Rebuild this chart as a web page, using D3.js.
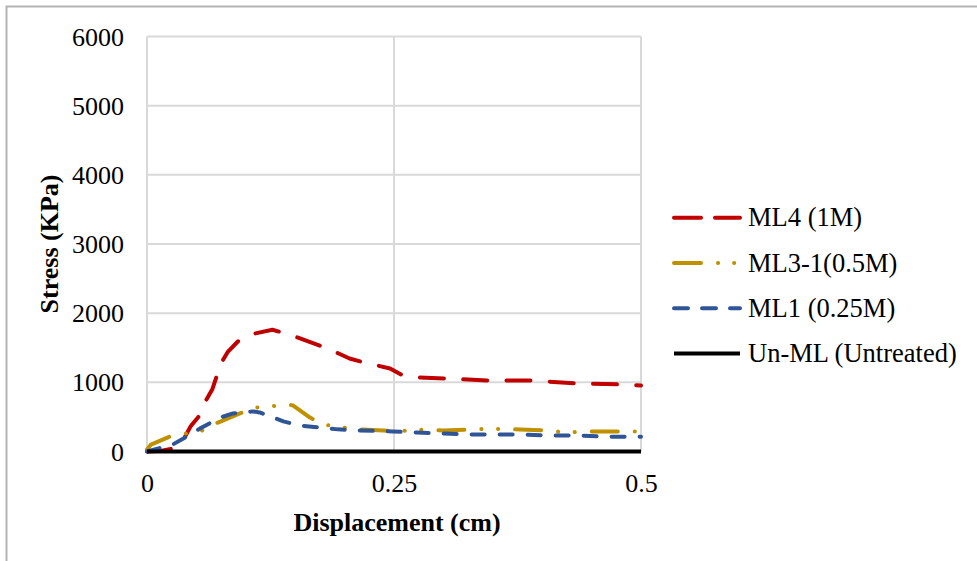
<!DOCTYPE html>
<html>
<head>
<meta charset="utf-8">
<script src="https://cdn.jsdelivr.net/npm/d3@7"></script>
<style>
  html, body { margin: 0; padding: 0; background: #fff; }
  svg { display: block; }
  text { font-family: "Times New Roman", "Liberation Serif", serif; fill: #000; }
</style>
</head>
<body>
<svg id="chart" width="977" height="561"></svg>
<script>
// Stress–displacement readings for each treatment
const ml4X = [0, 0.015, 0.028, 0.038, 0.044, 0.054, 0.059, 0.066, 0.071, 0.076, 0.082, 0.094, 0.109, 0.127, 0.137, 0.152, 0.177, 0.192, 0.205, 0.219, 0.234, 0.246, 0.259, 0.276, 0.304, 0.347, 0.391, 0.435, 0.479, 0.5];
const ml4Y = [0, 10, 50, 200, 360, 535, 720, 895, 1110, 1300, 1445, 1620, 1705, 1760, 1720, 1650, 1520, 1430, 1345, 1290, 1240, 1200, 1100, 1070, 1055, 1025, 1025, 985, 970, 955];

const ml3X = [0, 0.004, 0.023, 0.040, 0.054, 0.067, 0.094, 0.109, 0.124, 0.142, 0.148, 0.165, 0.178, 0.193, 0.212, 0.239, 0.254, 0.271, 0.300, 0.330, 0.347, 0.378, 0.406, 0.423, 0.451, 0.482, 0.5];
const ml3Y = [30, 100, 215, 260, 290, 390, 550, 635, 650, 680, 665, 490, 390, 360, 320, 305, 290, 315, 305, 318, 330, 318, 305, 275, 290, 290, 290];

const ml1X = [0, 0.026, 0.040, 0.054, 0.074, 0.087, 0.107, 0.114, 0.128, 0.138, 0.155, 0.182, 0.193, 0.212, 0.249, 0.273, 0.300, 0.327, 0.354, 0.381, 0.411, 0.438, 0.467, 0.496, 0.5];
const ml1Y = [0, 100, 215, 335, 490, 550, 580, 565, 490, 435, 375, 335, 320, 305, 290, 275, 260, 245, 245, 245, 230, 230, 215, 215, 215];

const unX = [0, 0.5];
const unY = [0, 0];

const seriesNames = ["ML4 (1M)", "ML3-1(0.5M)", "ML1 (0.25M)", "Un-ML (Untreated)"];
const xTicks = [0, 0.25, 0.5];
const xTickLabels = ["0", "0.25", "0.5"];
const yTicks = [0, 1000, 2000, 3000, 4000, 5000, 6000];

const styles = [
  { color: "#C00000", dash: "24,19.3" },
  { color: "#BF9000", dash: "26,17,0.1,16.6,0.1,17" },
  { color: "#2F5597", dash: "13,15" },
  { color: "#000000", dash: null }
];

const series = [
  { name: seriesNames[0], pts: ml4X.map((x, i) => [x, ml4Y[i]]) },
  { name: seriesNames[1], pts: ml3X.map((x, i) => [x, ml3Y[i]]) },
  { name: seriesNames[2], pts: ml1X.map((x, i) => [x, ml1Y[i]]) },
  { name: seriesNames[3], pts: unX.map((x, i) => [x, unY[i]]) }
];

const svg = d3.select("#chart");
const FS = 26;

// Outer chart frame
svg.append("rect")
  .attr("x", 6.5).attr("y", 6.5)
  .attr("width", 1000).attr("height", 600)
  .attr("fill", "none").attr("stroke", "#b3b3b3").attr("stroke-width", 2);

const plot = { left: 147, right: 641, top: 36.5, bottom: 451.5 };

const x = d3.scaleLinear().domain([0, 0.5]).range([plot.left, plot.right]);
const y = d3.scaleLinear().domain([0, 6000]).range([plot.bottom, plot.top]);

// Gridlines
const grid = svg.append("g").attr("stroke", "#d9d9d9").attr("stroke-width", 2);
grid.selectAll("line.h").data(yTicks).join("line")
  .attr("class", "h")
  .attr("x1", plot.left).attr("x2", plot.right)
  .attr("y1", d => y(d)).attr("y2", d => y(d));
grid.selectAll("line.v").data(xTicks).join("line")
  .attr("class", "v")
  .attr("y1", plot.top).attr("y2", plot.bottom)
  .attr("x1", d => x(d)).attr("x2", d => x(d));

// Axes (labels only, Excel-style)
const yAxis = d3.axisLeft(y).tickValues(yTicks).tickSize(0).tickPadding(23).tickFormat(d3.format("d"));
const yG = svg.append("g").attr("transform", `translate(${plot.left},0)`).call(yAxis);
yG.select(".domain").remove();
yG.selectAll("text").attr("font-size", FS).attr("font-family", null).attr("dy", "0.33em");

const xAxis = d3.axisBottom(x).tickValues(xTicks).tickSize(0).tickPadding(22)
  .tickFormat((d, i) => xTickLabels[i]);
const xG = svg.append("g").attr("transform", `translate(0,${plot.bottom})`).call(xAxis);
xG.select(".domain").remove();
xG.selectAll("text").attr("font-size", FS).attr("font-family", null).attr("dy", "0.71em");

// Series lines
const line = d3.line().x(d => x(d[0])).y(d => y(d[1]));
svg.append("g").selectAll("path").data(series).join("path")
  .attr("d", d => line(d.pts))
  .attr("fill", "none")
  .attr("stroke", (d, i) => styles[i].color)
  .attr("stroke-width", 4)
  .attr("stroke-linecap", (d, i) => i === 3 ? "butt" : "round")
  .attr("stroke-linejoin", "round")
  .attr("stroke-dasharray", (d, i) => styles[i].dash);

// Axis titles
svg.append("text")
  .attr("x", 397).attr("y", 531)
  .attr("text-anchor", "middle")
  .attr("font-size", FS).attr("font-weight", "bold")
  .text("Displacement (cm)");

svg.append("text")
  .attr("transform", "translate(58,244) rotate(-90)")
  .attr("text-anchor", "middle")
  .attr("font-size", FS).attr("font-weight", "bold")
  .text("Stress (KPa)");

// Legend
const legend = svg.append("g");
const rows = legend.selectAll("g").data(series).join("g")
  .attr("transform", (d, i) => `translate(672,${217.7 + i * 45.3})`);
rows.append("line")
  .attr("x1", 2).attr("x2", 68)
  .attr("stroke", (d, i) => styles[i].color)
  .attr("stroke-width", 4)
  .attr("stroke-linecap", (d, i) => i === 3 ? "butt" : "round")
  .attr("stroke-dasharray", (d, i) => i === 0 ? "27,14" : i === 1 ? "27,17,0.1,16,0.1,30" : i === 2 ? "14,14" : null);
rows.append("text")
  .attr("x", 76).attr("dy", "0.33em")
  .attr("font-size", 26.5)
  .text(d => d.name);
</script>
</body>
</html>
